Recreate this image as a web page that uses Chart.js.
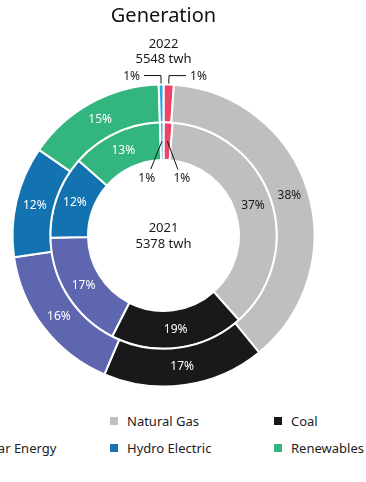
<!DOCTYPE html>
<html>
<head>
<meta charset="utf-8">
<script src="https://cdn.jsdelivr.net/npm/chart.js@4"></script>
<style>
  body { margin: 0; width: 366px; height: 482px; overflow: hidden; position: relative; background: #fff; font-family: "Noto Sans", sans-serif; }
  #wrap { position: absolute; left: 0; top: 0; }
  #legend { position: absolute; left: -54px; top: 407px; display: grid; grid-template-columns: repeat(3, 164px); grid-auto-rows: 27px; }
  .item { display: flex; align-items: center; font-size: 13px; color: #222; white-space: nowrap; }
  .item i { display: inline-block; width: 8px; height: 8px; margin-right: 9px; }
</style>
</head>
<body>
<div id="wrap"><canvas id="c" width="327" height="390"></canvas></div>
<div id="legend"></div>
<script>
// sources, clockwise from the top
const categories = ['Oil', 'Natural Gas', 'Coal', 'Nuclear Energy', 'Hydro Electric', 'Renewables', 'Other'];
const colors = ['#ee4466', '#bfbfbf', '#19191b', '#5f66b0', '#1273b0', '#33b580', '#2aa9e0'];
const years = ['2022', '2021'];
const gen2022 = [61, 2108, 960, 904, 660, 827, 28];   // twh, outer ring
const gen2021 = [70, 1995, 1027, 925, 635, 699, 27];  // twh, inner ring

const sum = arr => arr.reduce((a, b) => a + b, 0);
const FONT = '"Noto Sans", sans-serif';

// percent labels on the slices, small ones get a leader line
const sliceLabels = {
  id: 'sliceLabels',
  afterDatasetsDraw(chart) {
    const ctx = chart.ctx;
    ctx.save();
    ctx.font = '12px ' + FONT;
    ctx.strokeStyle = '#111';
    ctx.lineWidth = 1;
    chart.data.datasets.forEach((ds, di) => {
      const meta = chart.getDatasetMeta(di);
      const total = sum(ds.data);
      meta.data.forEach((arc, i) => {
        const pct = Math.round(ds.data[i] / total * 100);
        const p = arc.getProps(['x', 'y', 'startAngle', 'endAngle', 'innerRadius', 'outerRadius'], true);
        const mid = (p.startAngle + p.endAngle) / 2;
        const txt = pct + '%';
        if (pct >= 3) {
          const c = arc.getCenterPoint();
          ctx.fillStyle = ds.backgroundColor[i] === '#bfbfbf' ? '#1a1a1a' : '#fff';
          ctx.textAlign = 'center';
          ctx.textBaseline = 'middle';
          ctx.fillText(txt, c.x, c.y);
          return;
        }
        const side = Math.cos(mid) >= 0 ? 1 : -1;
        ctx.fillStyle = '#1a1a1a';
        ctx.beginPath();
        if (di === 0) {
          const r0 = p.outerRadius + 1, r1 = p.outerRadius + 9;
          const x0 = p.x + r0 * Math.cos(mid), y0 = p.y + r0 * Math.sin(mid);
          const x1 = p.x + r1 * Math.cos(mid), y1 = p.y + r1 * Math.sin(mid);
          const x2 = x1 + side * 17;
          ctx.moveTo(x0, y0); ctx.lineTo(x1, y1); ctx.lineTo(x2, y1);
          ctx.stroke();
          ctx.textAlign = side > 0 ? 'left' : 'right';
          ctx.textBaseline = 'middle';
          ctx.fillText(txt, x2 + side * 4, y1 + 1);
        } else {
          const r0 = (p.innerRadius + p.outerRadius) / 2, r1 = p.innerRadius - 8;
          const a1 = mid + side * 10 * Math.PI / 180;
          const x0 = p.x + r0 * Math.cos(mid), y0 = p.y + r0 * Math.sin(mid);
          const x1 = p.x + r1 * Math.cos(a1), y1 = p.y + r1 * Math.sin(a1);
          ctx.moveTo(x0, y0); ctx.lineTo(x1, y1);
          ctx.stroke();
          ctx.textAlign = 'center';
          ctx.textBaseline = 'middle';
          ctx.fillText(txt, x1 + side * 4, y1 + 9);
        }
      });
    });
    ctx.restore();
  }
};

// inner year + total in the hole
const centerText = {
  id: 'centerText',
  afterDraw(chart) {
    const meta = chart.getDatasetMeta(1);
    const a = meta.data[0];
    const ctx = chart.ctx;
    ctx.save();
    ctx.font = '13px ' + FONT;
    ctx.fillStyle = '#1a1a1a';
    ctx.textAlign = 'center';
    ctx.textBaseline = 'middle';
    ctx.fillText(years[1], a.x, a.y - 7);
    ctx.fillText(sum(gen2021) + ' twh', a.x, a.y + 9);
    ctx.restore();
  }
};

new Chart(document.getElementById('c'), {
  type: 'doughnut',
  data: {
    labels: categories,
    datasets: [
      { label: years[0], data: gen2022, backgroundColor: colors, borderColor: '#fff', borderWidth: 2, hoverOffset: 0 },
      { label: years[1], data: gen2021, backgroundColor: colors, borderColor: '#fff', borderWidth: 2, hoverOffset: 0 }
    ]
  },
  options: {
    responsive: false,
    animation: false,
    events: [],
    cutout: '50%',
    layout: { padding: { left: 11.5, right: 11.5, bottom: 2.5 } },
    plugins: {
      legend: { display: false },
      tooltip: { enabled: false },
      title: {
        display: true,
        text: 'Generation',
        color: '#111',
        font: { family: FONT, size: 20, weight: 'normal' },
        padding: { top: 4, bottom: 8 }
      },
      subtitle: {
        display: true,
        text: [years[0], sum(gen2022) + ' twh'],
        color: '#1a1a1a',
        font: { family: FONT, size: 13 },
        padding: { top: 0, bottom: 16.3 }
      }
    }
  },
  plugins: [sliceLabels, centerText]
});

// legend grid, three columns
const legend = document.getElementById('legend');
categories.forEach((name, i) => {
  const d = document.createElement('div');
  d.className = 'item';
  d.innerHTML = '<i style="background:' + colors[i] + '"></i>' + name;
  legend.appendChild(d);
});
</script>
</body>
</html>
